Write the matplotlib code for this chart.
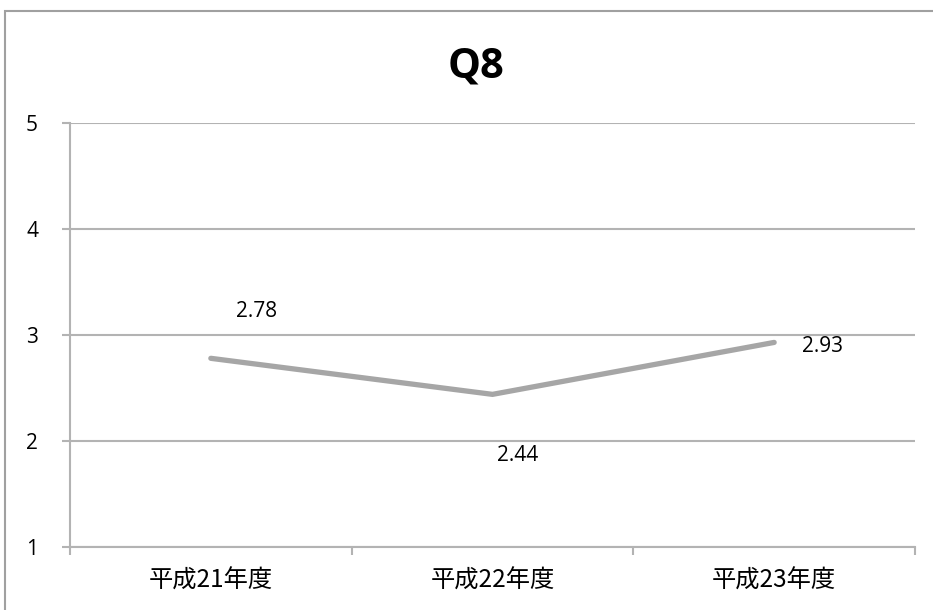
import matplotlib
matplotlib.use("Agg")
import matplotlib.pyplot as plt
from matplotlib.patches import Rectangle

plt.rcParams['font.family'] = ['Noto Sans CJK JP', 'DejaVu Sans']

title = "Q8"
categories = ["平成21年度", "平成22年度", "平成23年度"]
values = [2.78, 2.44, 2.93]
yticks = [1, 2, 3, 4, 5]
label_offsets = [(33, 34), (18, -44), (35, -3)]

fig = plt.figure(figsize=(9.33, 6.1), dpi=100)
fig.patches.append(Rectangle((5/933, -0.1), 1.2, 1 - 11/610 + 0.1,
                             transform=fig.transFigure, fill=False,
                             edgecolor='#a0a0a0', linewidth=1.5))
ax = fig.add_axes([70/933, 1 - 547/610, 845/933, 424/610])

x = list(range(len(categories)))
ax.plot(x, values, color='#a6a6a6', linewidth=3.8, solid_capstyle='round',
        solid_joinstyle='miter', zorder=3)
for xi, v, off in zip(x, values, label_offsets):
    ax.annotate(f"{v:.2f}", (xi, v), xytext=off, textcoords='offset points',
                ha='center', va='center', fontsize=15, color='black',
                family=['Open Sans', 'DejaVu Sans'])

ax.set_xlim(-0.5, len(categories) - 0.5)
ax.set_ylim(1, 5)
ax.set_yticks(yticks)
ax.set_yticklabels([str(t) for t in yticks], family=['Open Sans', 'DejaVu Sans'])
ax.yaxis.grid(True, color='#b3b3b3', linewidth=1.5)
ax.set_axisbelow(True)
ax.set_xticks(x)
ax.set_xticklabels(categories, fontsize=17.5)
ax.set_xticks([-0.5, 0.5, 1.5, 2.5], minor=True)
ax.tick_params(axis='x', which='major', length=0, pad=15)
ax.tick_params(axis='x', which='minor', length=6, color='#b3b3b3', width=1.5)
ax.tick_params(axis='y', length=6, color='#b3b3b3', width=1.5, pad=17, labelsize=15)
for s in ['top', 'right']:
    ax.spines[s].set_visible(False)
for s in ['left', 'bottom']:
    ax.spines[s].set_color('#b3b3b3')
    ax.spines[s].set_linewidth(1.5)
ax.set_title(title, fontsize=30, fontweight='bold', pad=33, x=0.481,
             family=['Open Sans', 'DejaVu Sans'])

fig.savefig("out.png", dpi=100)
